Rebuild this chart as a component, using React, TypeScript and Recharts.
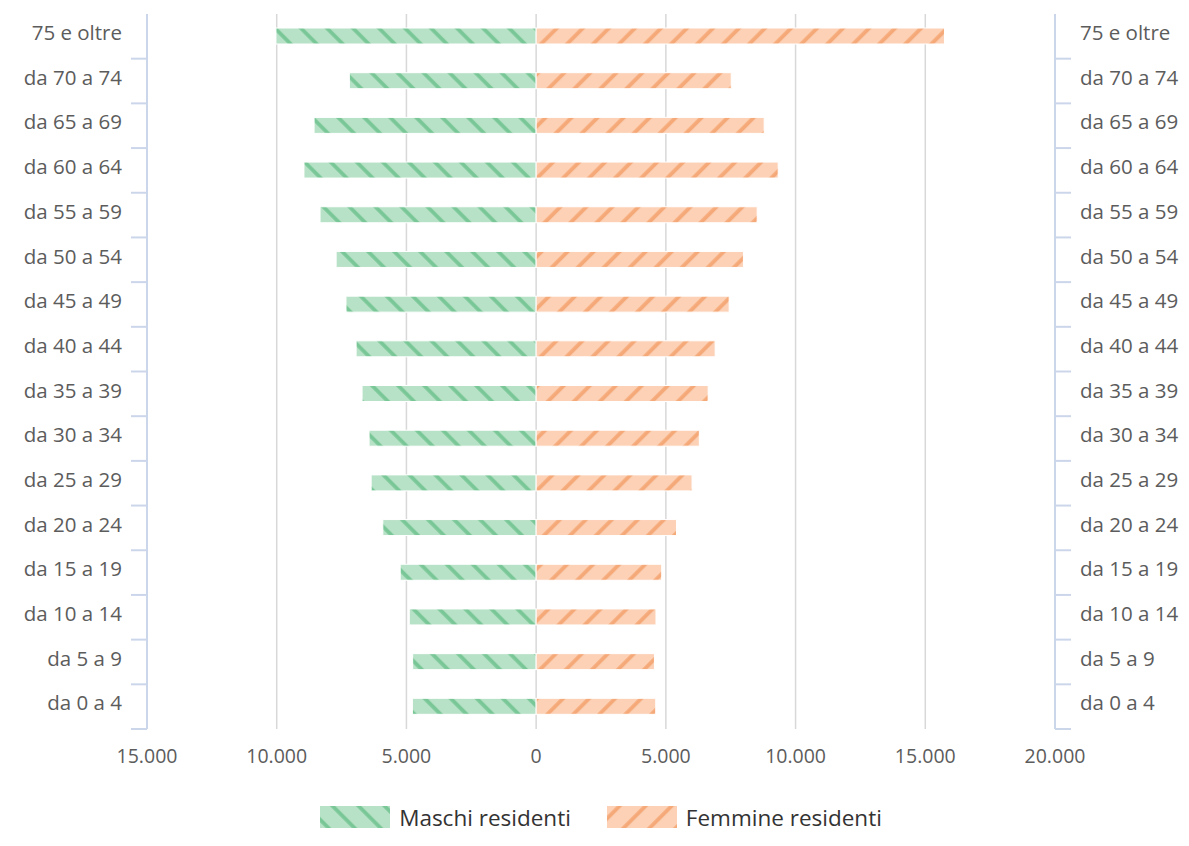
import React from 'react';
import { BarChart, Bar, XAxis, YAxis, CartesianGrid, Legend } from 'recharts';

const ageGroups = [
  '75 e oltre', 'da 70 a 74', 'da 65 a 69', 'da 60 a 64', 'da 55 a 59', 'da 50 a 54',
  'da 45 a 49', 'da 40 a 44', 'da 35 a 39', 'da 30 a 34', 'da 25 a 29', 'da 20 a 24',
  'da 15 a 19', 'da 10 a 14', 'da 5 a 9', 'da 0 a 4',
];
const maschi = [10030, 7200, 8560, 8950, 8330, 7710, 7330, 6940, 6710, 6440, 6360, 5910, 5240, 4890, 4760, 4770];
const femmine = [15740, 7520, 8790, 9330, 8520, 7990, 7440, 6900, 6630, 6290, 6010, 5410, 4840, 4620, 4560, 4610];
const xTicks = [-15000, -10000, -5000, 0, 5000, 10000, 15000, 20000];
const seriesNames = ['Maschi residenti', 'Femmine residenti'];

const data = ageGroups.map((age, i) => ({ age, maschi: -maschi[i], femmine: femmine[i] }));

const FONT = '"Open Sans", "Noto Sans", sans-serif';
const AXIS_COLOR = '#ccd6eb';
const LABEL_COLOR = '#5c5c5c';
const TICK_SIZE = 16;
const TICK_MARGIN = 9;
const LABEL_SHIFT = -3.5;

const fmt = (v: number) => String(Math.abs(v)).replace(/\B(?=(\d{3})+(?!\d))/g, '.');

const GREEN_BASE = '#b8e2c7';
const GREEN_STRIPE = '#6fc28e';
const ORANGE_BASE = '#fcd1b6';
const ORANGE_STRIPE = '#f5a26d';

const Patterns = ({ prefix }: { prefix: string }) => (
  <defs>
    <pattern id={`${prefix}-green`} patternUnits="userSpaceOnUse" width={18.4} height={18.4} patternTransform="rotate(-45)">
      <rect x={0} y={0} width={18.4} height={18.4} fill={GREEN_BASE} />
      <rect x={7} y={0} width={3.8} height={18.4} fill={GREEN_STRIPE} opacity={0.85} />
    </pattern>
    <pattern id={`${prefix}-orange`} patternUnits="userSpaceOnUse" width={18.4} height={18.4} patternTransform="rotate(45)">
      <rect x={0} y={0} width={18.4} height={18.4} fill={ORANGE_BASE} />
      <rect x={7} y={0} width={3.8} height={18.4} fill={ORANGE_STRIPE} opacity={0.85} />
    </pattern>
  </defs>
);

const LeftTick = (props: any) => {
  const { x, y, payload } = props;
  const half = payload && typeof payload.offset === 'number' ? payload.offset : 22.35;
  return (
    <g>
      <line x1={x + TICK_MARGIN} x2={x + TICK_MARGIN + TICK_SIZE} y1={y + half} y2={y + half} stroke={AXIS_COLOR} strokeWidth={2} />
      <text x={x} y={y + LABEL_SHIFT} dy="0.355em" textAnchor="end" fill={LABEL_COLOR} fontSize={20.5} fontFamily={FONT}>
        {payload.value}
      </text>
    </g>
  );
};

const RightTick = (props: any) => {
  const { x, y, payload } = props;
  const half = payload && typeof payload.offset === 'number' ? payload.offset : 22.35;
  return (
    <g>
      <line x1={x - TICK_MARGIN - TICK_SIZE} x2={x - TICK_MARGIN} y1={y + half} y2={y + half} stroke={AXIS_COLOR} strokeWidth={2} />
      <text x={x} y={y + LABEL_SHIFT} dy="0.355em" textAnchor="start" fill={LABEL_COLOR} fontSize={20.5} fontFamily={FONT}>
        {payload.value}
      </text>
    </g>
  );
};

const Swatch = ({ kind }: { kind: 'green' | 'orange' }) => (
  <svg width={70} height={22} style={{ display: 'block' }}>
    <Patterns prefix={`lg-${kind}`} />
    <rect x={0} y={0} width={70} height={22} fill={`url(#lg-${kind}-${kind})`} />
  </svg>
);

const LegendContent = () => (
  <div
    style={{
      height: 40,
      display: 'flex',
      justifyContent: 'center',
      alignItems: 'center',
      paddingLeft: 13,
      fontFamily: FONT,
      fontSize: 22.5,
      color: '#333',
    }}
  >
    <div style={{ display: 'flex', alignItems: 'center', marginRight: 36 }}>
      <Swatch kind="green" />
      <span style={{ marginLeft: 9 }}>{seriesNames[0]}</span>
    </div>
    <div style={{ display: 'flex', alignItems: 'center' }}>
      <Swatch kind="orange" />
      <span style={{ marginLeft: 9 }}>{seriesNames[1]}</span>
    </div>
  </div>
);

export default function App() {
  return (
    <div style={{ position: 'absolute', left: 0, top: 0, width: 1189, height: 846, background: '#fff' }}>
      <BarChart
        width={1189}
        height={846}
        data={data}
        layout="vertical"
        stackOffset="sign"
        margin={{ top: 14, right: 0, bottom: 9, left: 0 }}
        barSize={16}
        style={{ fontFamily: FONT }}
      >
        <Patterns prefix="bar" />
        <CartesianGrid horizontal={false} stroke="#d8d8d8" strokeWidth={1.5} />
        <XAxis
          type="number"
          domain={[-15000, 20000]}
          ticks={xTicks}
          tickFormatter={fmt}
          axisLine={false}
          tickLine={false}
          tickSize={0}
          tickMargin={20}
          height={68}
          tick={{ fill: LABEL_COLOR, fontSize: 19.5, fontFamily: FONT }}
          interval={0}
          allowDataOverflow
        />
        <YAxis
          yAxisId="left"
          type="category"
          dataKey="age"
          width={147}
          axisLine={{ stroke: AXIS_COLOR, strokeWidth: 2 }}
          tickLine={false}
          tickSize={TICK_SIZE}
          tickMargin={TICK_MARGIN}
          tick={<LeftTick />}
          interval={0}
        />
        <YAxis
          yAxisId="right"
          orientation="right"
          type="category"
          dataKey="age"
          width={134}
          axisLine={{ stroke: AXIS_COLOR, strokeWidth: 2 }}
          tickLine={false}
          tickSize={TICK_SIZE}
          tickMargin={TICK_MARGIN}
          tick={<RightTick />}
          interval={0}
        />
        <Legend verticalAlign="bottom" content={<LegendContent />} />
        <Bar
          yAxisId="left"
          dataKey="maschi"
          name={seriesNames[0]}
          stackId="pop"
          fill="url(#bar-green)"
          stroke="#fff"
          strokeWidth={1}
          isAnimationActive={false}
        />
        <Bar
          yAxisId="left"
          dataKey="femmine"
          name={seriesNames[1]}
          stackId="pop"
          fill="url(#bar-orange)"
          stroke="#fff"
          strokeWidth={1}
          isAnimationActive={false}
        />
      </BarChart>
    </div>
  );
}
